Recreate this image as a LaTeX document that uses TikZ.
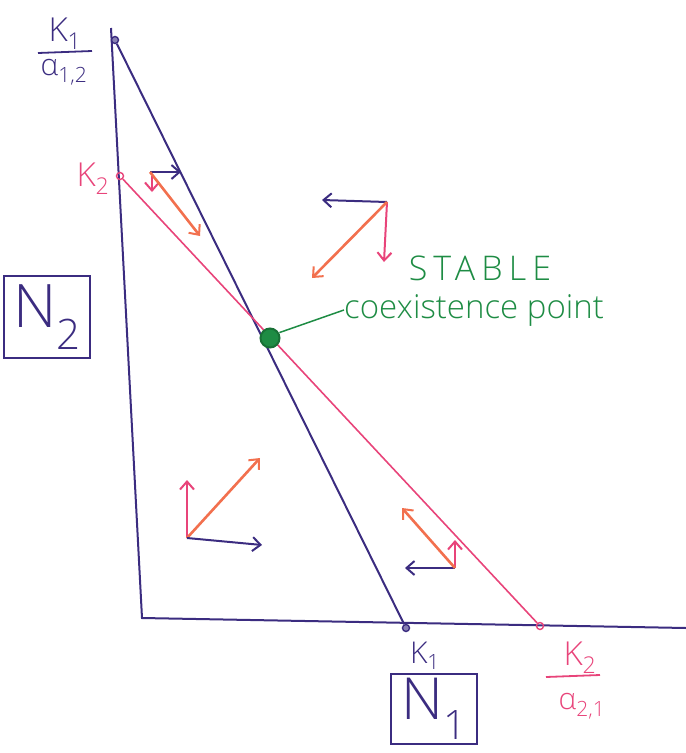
\documentclass[tikz,border=0pt]{standalone}
\usepackage{fontspec}
\setmainfont{Open Sans Light}[BoldFont=Open Sans]
\usetikzlibrary{arrows.meta}
\definecolor{ink}{HTML}{3B2C80}
\definecolor{pinkink}{HTML}{E8447A}
\definecolor{orangeink}{HTML}{F2704E}
\definecolor{greenink}{HTML}{1E8C44}
\tikzset{
  axisline/.style={ink, line width=2pt},
  isoblue/.style={ink, line width=2pt},
  isopink/.style={pinkink, line width=1.6pt},
  endpt/.style={circle, inner sep=0pt, minimum size=7pt, draw, line width=1.4pt},
  vec/.style={line width=2pt, -{Straight Barb[length=8pt,width=14pt,line width=2pt]}},
  vecblue/.style={vec, ink},
  vecpink/.style={vec, pinkink},
  vecorange/.style={vec, orangeink, line width=2.6pt},
  lbl/.style={inner sep=0pt},
}
\begin{document}
\begin{tikzpicture}[x=1pt,y=-1pt]
\useasboundingbox (0,0) rectangle (686,753);
% axes
\coordinate (ytop) at (111,28);
\coordinate (origin) at (142,618);
\coordinate (xend) at (686,628);
\draw[axisline] (ytop) -- (origin) -- (xend);
% endpoints
\node[endpt, ink, fill=ink!60] (b1) at (115,40) {};
\node[endpt, ink, fill=ink!60] (b2) at (406,628) {};
\node[endpt, pinkink] (p1) at (120,176) {};
\node[endpt, pinkink] (p2) at (540,626) {};
% isoclines
\draw[isoblue] (b1) -- (b2);
\draw[isopink] (p1) -- (p2);
% equilibrium
\node[circle, draw=greenink!80!black, fill=greenink, line width=2pt, minimum width=15pt, minimum height=19pt, inner sep=0pt] (eq) at (270,338) {};
% labels
\node[lbl, ink, font=\fontsize{33}{33}\selectfont] (k1a) at (65,34) {K\textsubscript{1}};
\draw[ink, line width=1.8pt] (38,53) -- (92,51);
\node[lbl, ink, font=\fontsize{30}{30}\selectfont] (a12) at (64,72) {α\textsubscript{1,2}};
\node[lbl, pinkink, font=\fontsize{33}{33}\selectfont] (k2a) at (93,179) {K\textsubscript{2}};
\node[draw=pinkink, line width=1.5pt, minimum width=86pt, minimum height=82pt, ink, font=\fontsize{60}{60}\selectfont] (n2) at (47,317) {N\textsubscript{2}};
\node[lbl, greenink, font=\fontsize{34}{34}\selectfont\addfontfeature{LetterSpace=18}] (stable) at (480,268) {STABLE};
\node[lbl, greenink, font=\fontsize{33}{33}\selectfont] (coex) at (474,310) {coexistence point};
\draw[greenink, line width=1.5pt] (eq.north east) ++(2,2) -- (coex.west);
\node[lbl, ink, font=\fontsize{30}{30}\selectfont] (k1b) at (425,656) {K\textsubscript{1}};
\node[draw=ink, line width=1.8pt, minimum width=86pt, minimum height=70pt, ink, font=\fontsize{58}{58}\selectfont] (n1) at (434,709) {N\textsubscript{1}};
\node[lbl, pinkink, font=\fontsize{33}{33}\selectfont] (k2b) at (580,658) {K\textsubscript{2}};
\draw[pinkink, line width=1.8pt] (546,677) -- (600,675);
\node[lbl, pinkink, font=\fontsize{30}{30}\selectfont] (a21) at (582,706) {α\textsubscript{2,1}};
% vectors: top-left
\coordinate (o1) at (150,172);
\draw[vecblue] (o1) -- (181,172);
\draw[vecpink, line width=1.6pt] (152,176) -- (152,192);
\draw[vecorange] (o1) -- (200,236);
% vectors: top-right
\coordinate (o2) at (387,202);
\draw[vecblue] (o2) -- (322,200);
\draw[vecpink] (o2) -- (384,262);
\draw[vecorange] (o2) -- (312,278);
% vectors: bottom-left
\coordinate (o3) at (187,538);
\draw[vecpink] (o3) -- (187,480);
\draw[vecorange] (o3) -- (260,458);
\draw[vecblue] (o3) -- (262,545);
% vectors: bottom-right
\coordinate (o4) at (455,568);
\draw[vecblue] (o4) -- (405,568);
\draw[vecpink] (o4) -- (455,540);
\draw[vecorange] (o4) -- (402,508);
\end{tikzpicture}
\end{document}
